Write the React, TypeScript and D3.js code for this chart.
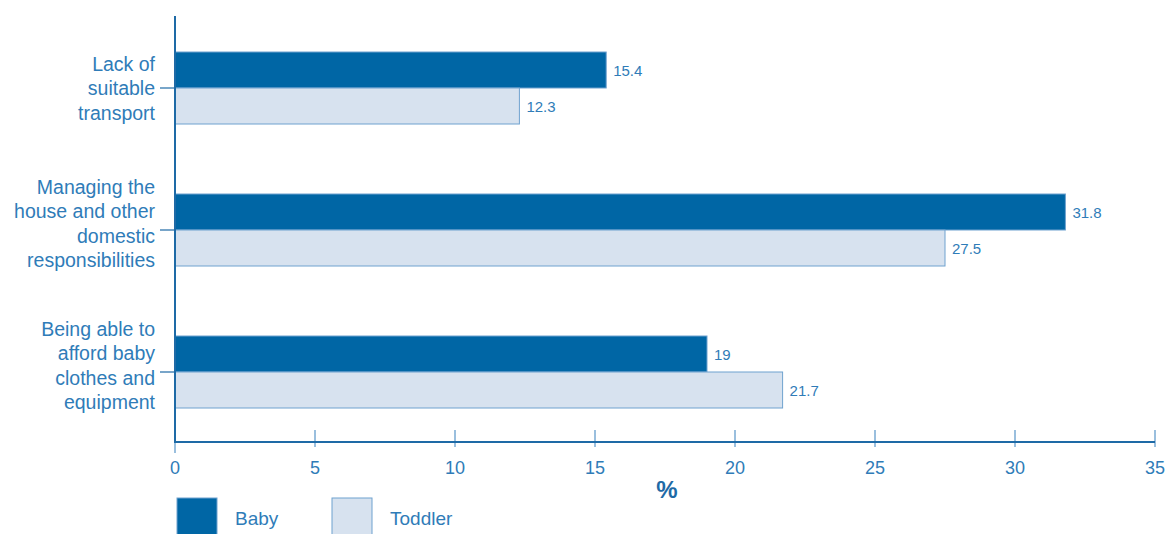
import React from "react";
import * as d3 from "d3";

const categories = [
  "Lack of suitable transport",
  "Managing the house and other domestic responsibilities",
  "Being able to afford baby clothes and equipment",
];
const categoryLines = [
  ["Lack of", "suitable", "transport"],
  ["Managing the", "house and other", "domestic", "responsibilities"],
  ["Being able to", "afford baby", "clothes and", "equipment"],
];
const seriesNames = ["Baby", "Toddler"];
const babyValues = [15.4, 31.8, 19];
const toddlerValues = [12.3, 27.5, 21.7];
const xTicks = [0, 5, 10, 15, 20, 25, 30, 35];
const xAxisTitle = "%";

const W = 1174;
const H = 534;
const TEXT = "#2f7cb8";
const AXIS = "#1e6aa6";
const TICK = "#78aad3";
const BABY = "#0066a5";
const TODDLER = "#d7e2ef";
const EDGE = "#6fa2cf";
const FONT = "'Liberation Sans', Arial, Helvetica, sans-serif";

export default function App() {
  const x = d3.scaleLinear().domain([0, 35]).range([175, 1155]);
  const y = d3.scaleBand<string>().domain(categories).range([17, 443]).padding(0);
  const sub = d3.scaleBand<string>().domain(seriesNames).range([-36, 36]).padding(0);
  const series = [babyValues, toddlerValues];
  const fills = [BABY, TODDLER];
  const axisY = 442;
  const lh = 24.5;

  return (
    <svg
      width={W}
      height={H}
      style={{ position: "absolute", left: 0, top: 0 }}
      fontFamily={FONT}
    >
      <rect width={W} height={H} fill="#fff" />
      {categories.map((c, ci) => {
        const cy = (y(c) ?? 0) + y.bandwidth() / 2;
        return (
          <g key={c}>
            {series.map((vals, si) => {
              const by = cy + (sub(seriesNames[si]) ?? 0);
              const bw = x(vals[ci]) - x(0);
              return (
                <g key={si}>
                  <rect
                    x={x(0)}
                    y={by}
                    width={bw}
                    height={sub.bandwidth()}
                    fill={fills[si]}
                    stroke={EDGE}
                    strokeWidth={1}
                  />
                  <text
                    x={x(vals[ci]) + 7}
                    y={by + sub.bandwidth() / 2 + 5.5}
                    fontSize={15}
                    fill={TEXT}
                  >
                    {String(vals[ci])}
                  </text>
                </g>
              );
            })}
            <line x1={160} x2={175} y1={cy} y2={cy} stroke={AXIS} strokeWidth={1.2} />
            {categoryLines[ci].map((ln, li) => {
              const n = categoryLines[ci].length;
              const shift = (n - 3) * 6.5;
              const center = cy - shift + (li - (n - 1) / 2) * lh;
              return (
                <text
                  key={li}
                  x={155}
                  y={center + 7}
                  textAnchor="end"
                  fontSize={19.5}
                  fill={TEXT}
                >
                  {ln}
                </text>
              );
            })}
          </g>
        );
      })}
      <line x1={175} x2={175} y1={16} y2={axisY} stroke={AXIS} strokeWidth={2} />
      {xTicks.map((t) => (
        <g key={t}>
          <line
            x1={x(t)}
            x2={x(t)}
            y1={t === 0 ? axisY : 430}
            y2={t === 0 ? 453 : 447}
            stroke={TICK}
            strokeWidth={1.5}
          />
          <text x={x(t)} y={474} textAnchor="middle" fontSize={18} fill={TEXT}>
            {String(t)}
          </text>
        </g>
      ))}
      <line x1={174} x2={1155} y1={axisY} y2={axisY} stroke={AXIS} strokeWidth={2.2} />
      <text
        x={667}
        y={498}
        textAnchor="middle"
        fontSize={24}
        fontWeight="bold"
        fill={AXIS}
      >
        {xAxisTitle}
      </text>
      {seriesNames.map((s, i) => {
        const lx = i === 0 ? 177 : 332;
        return (
          <g key={s}>
            <rect
              x={lx}
              y={498}
              width={40}
              height={40}
              fill={fills[i]}
              stroke={EDGE}
              strokeWidth={1}
            />
            <text x={lx + 58} y={525} fontSize={19} fill={TEXT}>
              {s}
            </text>
          </g>
        );
      })}
    </svg>
  );
}
